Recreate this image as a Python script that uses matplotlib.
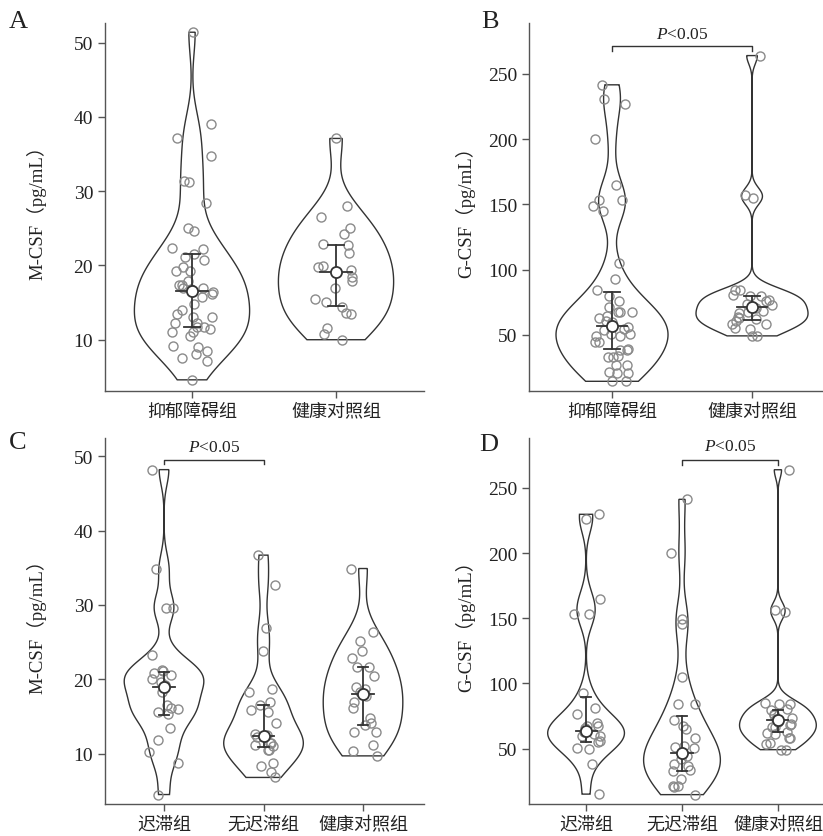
import numpy as np
import matplotlib
matplotlib.use("Agg")
import matplotlib.pyplot as plt

plt.rcParams['font.family'] = ['Liberation Serif', 'Noto Sans CJK SC']
plt.rcParams['mathtext.fontset'] = 'custom'
plt.rcParams['mathtext.rm'] = 'Liberation Serif'
plt.rcParams['mathtext.it'] = 'Liberation Serif:italic'

# ---- data ----
groups_ab = ['抑郁障碍组', '健康对照组']
groups_cd = ['迟滞组', '无迟滞组', '健康对照组']

a_dep = [51.4, 39.0, 37.1, 34.7, 31.4, 31.3, 28.4, 25.1, 24.6, 22.3, 22.2, 21.6,
         21.2, 20.7, 19.8, 19.3, 19.3, 17.9, 17.4, 17.4, 17.0, 17.0, 16.8, 16.4,
         16.2, 15.8, 14.8, 14.0, 13.5, 13.1, 13.0, 12.3, 12.3, 11.7, 11.7, 11.4,
         11.1, 11.1, 10.5, 9.2, 9.0, 8.5, 8.1, 7.6, 7.2, 4.6]
a_ctrl = [37.1, 28.0, 26.5, 25.0, 24.2, 22.8, 22.9, 21.7, 19.9, 19.8, 19.4, 18.5,
          17.9, 16.9, 15.1, 15.5, 14.4, 13.6, 13.5, 11.6, 10.8, 10.0]

b_dep = [241.6, 230.8, 226.8, 200.2, 165.2, 153.4, 153.0, 149.0, 145.0, 105.2,
         92.6, 84.7, 80.0, 76.2, 71.6, 67.6, 67.4, 67.8, 64.8, 62.8, 61.0, 59.7,
         56.1, 54.6, 54.0, 50.8, 50.6, 49.5, 49.0, 44.9, 44.9, 39.0, 38.8, 38.5,
         33.7, 33.5, 33.0, 27.0, 26.7, 21.4, 20.9, 21.0, 15.0, 14.5]
b_ctrl = [264.0, 157.3, 155.2, 84.8, 84.3, 80.4, 80.0, 79.8, 76.8, 76.0, 73.8,
          73.0, 70.4, 68.6, 67.9, 66.9, 63.5, 62.8, 62.3, 61.0, 58.4, 58.4, 55.4,
          54.6, 49.5, 49.3]

c_ret = [48.2, 34.9, 29.6, 29.6, 23.3, 21.3, 21.1, 20.9, 20.6, 20.1, 19.7, 19.2,
         18.3, 16.6, 16.2, 16.0, 15.6, 15.3, 13.4, 11.8, 10.2, 8.8, 4.5]
c_nonret = [36.7, 32.7, 26.9, 23.8, 18.7, 18.3, 17.0, 16.5, 15.9, 15.6, 14.1, 12.7,
            12.5, 12.2, 11.4, 11.4, 11.2, 11.0, 10.5, 10.5, 8.8, 8.3, 7.5, 6.8]
c_ctrl = [34.9, 26.4, 25.1, 23.8, 22.9, 21.7, 21.6, 20.5, 18.9, 18.7, 18.3, 17.7,
          17.0, 16.1, 14.8, 14.1, 13.8, 12.9, 12.9, 11.1, 10.4, 9.7]

d_ret = [229.8, 226.0, 165.1, 153.6, 153.1, 92.7, 80.8, 76.4, 69.7, 67.6, 67.2,
         65.6, 62.6, 61.3, 60.0, 59.5, 55.9, 55.2, 50.3, 49.6, 38.2, 15.1]
d_nonret = [241.3, 200.1, 149.2, 145.4, 105.0, 84.2, 84.0, 71.7, 67.1, 65.1, 58.4,
            51.8, 51.0, 50.5, 46.0, 44.1, 42.0, 38.5, 37.0, 33.4, 32.9, 27.0, 21.3,
            21.1, 20.9, 14.7]
d_ctrl = [264.0, 156.6, 154.9, 84.8, 84.3, 84.5, 80.2, 79.8, 76.8, 76.0, 73.8,
          73.0, 70.4, 68.6, 67.9, 66.6, 66.6, 62.8, 62.3, 61.0, 58.2, 58.2, 54.3,
          53.8, 49.3, 49.2]

# centre point and whiskers (centre, low, high)
a_mid = [16.6, 19.1]; a_lo = [11.7, 14.6]; a_hi = [21.5, 22.8]
b_mid = [57.2, 71.2]; b_lo = [39.3, 61.7]; b_hi = [82.7, 80.1]
c_mid = [19.0, 12.4, 18.0]; c_lo = [15.25, 10.9, 13.8]; c_hi = [21.0, 16.5, 21.7]
d_mid = [63.6, 46.9, 72.3]; d_lo = [55.1, 32.9, 62.8]; d_hi = [89.6, 74.8, 79.9]

ylab_m = 'M-CSF（pg/mL）'
ylab_g = 'G-CSF（pg/mL）'
sig_text = '$\\mathit{P}$<0.05'

LINE = '#333333'
PT = '#8a8a8a'


def bw_nrd0(x):
    x = np.asarray(x, float)
    sd = x.std(ddof=1)
    iqr = np.subtract(*np.percentile(x, [75, 25]))
    lo = min(sd, iqr / 1.34)
    return 0.9 * lo * len(x) ** -0.2


def violin(ax, vals, pos, half=0.4):
    v = np.asarray(vals, float)
    h = bw_nrd0(v)
    y = np.linspace(v.min(), v.max(), 512)
    d = np.exp(-0.5 * ((y[:, None] - v[None, :]) / h) ** 2).sum(axis=1)
    w = d / d.max() * half
    xs = np.concatenate([pos + w, (pos - w)[::-1]])
    ys = np.concatenate([y, y[::-1]])
    ax.fill(xs, ys, facecolor='white', edgecolor=LINE, lw=1.0, zorder=2)


def panel(ax, data, labels, mid, lo, hi, yticks, ylim, xlim, ylabel, seed):
    rng = np.random.default_rng(seed)
    for i, vals in enumerate(data):
        violin(ax, vals, i)
        jit = rng.uniform(-0.15, 0.15, len(vals))
        ax.plot(i + jit, vals, 'o', ms=6.5, mfc='none', mec=PT, mew=1.0, zorder=3)
        ax.plot([i, i], [lo[i], hi[i]], color=LINE, lw=1.3, zorder=4)
        for yy in (lo[i], hi[i]):
            ax.plot([i - 0.055, i + 0.055], [yy, yy], color=LINE, lw=1.3, zorder=4)
        ax.plot([i - 0.11, i + 0.11], [mid[i], mid[i]], color=LINE, lw=1.3, zorder=4)
        ax.plot(i, mid[i], 'o', ms=8, mfc='white', mec=LINE, mew=1.3, zorder=5)
    ax.set_xticks(range(len(labels)))
    ax.set_xticklabels(labels, fontsize=13)
    ax.set_yticks(yticks)
    ax.tick_params(axis='y', labelsize=14)
    ax.tick_params(colors='#555555', labelcolor='#222222', length=5, width=1)
    ax.set_xlim(*xlim)
    ax.set_ylim(*ylim)
    for s in ('top', 'right'):
        ax.spines[s].set_visible(False)
    for s in ('left', 'bottom'):
        ax.spines[s].set_color('#555555')
        ax.spines[s].set_linewidth(1.0)
    ax.set_ylabel(ylabel, fontsize=13.5, color='#222222')
    ax.yaxis.set_label_coords(-0.185, 0.5)


def bracket(ax, x0, x1, ytop, ydrop, ytext):
    ax.plot([x0, x0, x1, x1], [ydrop, ytop, ytop, ydrop], color=LINE, lw=1.0,
            clip_on=False)
    ax.text((x0 + x1) / 2, ytext, sig_text, ha='center', va='center',
            fontsize=12.5, color='#222222', clip_on=False)


fig = plt.figure(figsize=(8.23, 8.37), dpi=100)
axA = fig.add_axes([0.1276, 0.5317, 0.3876, 0.4397])
axB = fig.add_axes([0.6431, 0.5317, 0.3569, 0.4397])
axC = fig.add_axes([0.1276, 0.0379, 0.3876, 0.4380])
axD = fig.add_axes([0.6431, 0.0379, 0.3569, 0.4380])

panel(axA, [a_dep, a_ctrl], groups_ab, a_mid, a_lo, a_hi,
      [10, 20, 30, 40, 50], (3.1, 52.65), (-0.604, 1.611), ylab_m, 1)
panel(axB, [b_dep, b_ctrl], groups_ab, b_mid, b_lo, b_hi,
      [50, 100, 150, 200, 250], (7.1, 289), (-0.591, 1.507), ylab_g, 2)
panel(axC, [c_ret, c_nonret, c_ctrl], groups_cd, c_mid, c_lo, c_hi,
      [10, 20, 30, 40, 50], (3.19, 52.5), (-0.593, 2.613), ylab_m, 3)
panel(axD, [d_ret, d_nonret, d_ctrl], groups_cd, d_mid, d_lo, d_hi,
      [50, 100, 150, 200, 250], (7.3, 288.6), (-0.592, 2.47), ylab_g, 4)

bracket(axB, 0, 1, 271.2, 267.4, 280.5)
bracket(axC, 0, 1, 49.5, 48.9, 51.3)
bracket(axD, 1, 2, 271.7, 267.9, 282)

for lab, x, y in [('A', 18, 22), ('B', 490, 22), ('C', 18, 443), ('D', 489, 445)]:
    fig.text(x / 823, 1 - y / 837, lab, fontsize=19, ha='center', va='center',
             color='#222222')

fig.savefig('out.png', dpi=100)
